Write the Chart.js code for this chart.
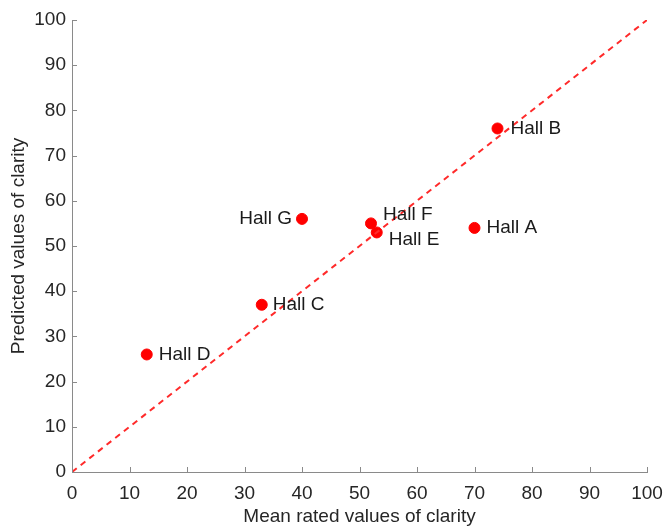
<!DOCTYPE html>
<html>
<head>
<meta charset="utf-8">
<script src="https://cdn.jsdelivr.net/npm/chart.js@4"></script>
<style>
  html, body { margin: 0; padding: 0; background: #fff; }
  #wrap { width: 665px; height: 527px; }
</style>
</head>
<body>
<div id="wrap"><canvas id="clarity"></canvas></div>
<script>
// values
const halls = ['Hall A', 'Hall B', 'Hall C', 'Hall D', 'Hall E', 'Hall F', 'Hall G'];
const meanRated = [70, 74, 33, 13, 53, 52, 40];
const predicted = [54, 76, 37, 26, 53, 55, 56];
const refLine = [0, 100];
const ticks = [0, 10, 20, 30, 40, 50, 60, 70, 80, 90, 100];

const FONT = '"Liberation Sans", Arial, sans-serif';
const AXIS_GREY = '#8a8a8a';

// where each label sits relative to its point (dx, dy, align)
const labelPlace = {
    'Hall A': [12, 0, 'left'],
    'Hall B': [13, 0, 'left'],
    'Hall C': [11, 0, 'left'],
    'Hall D': [12, 0, 'left'],
    'Hall E': [12, 7, 'left'],
    'Hall F': [12, -9, 'left'],
    'Hall G': [-10, 0, 'right']
};

// matlab style: tick marks point into the plot
const innerTicks = {
    id: 'innerTicks',
    afterDraw(chart) {
        const ctx = chart.ctx;
        const xs = chart.scales.x, ys = chart.scales.y;
        const area = chart.chartArea;
        ctx.save();
        ctx.strokeStyle = AXIS_GREY;
        ctx.lineWidth = 1;
        ctx.beginPath();
        ticks.forEach(v => {
            const px = Math.round(xs.getPixelForValue(v)) + 0.5;
            ctx.moveTo(px, area.bottom);
            ctx.lineTo(px, area.bottom - 5);
            const py = Math.round(ys.getPixelForValue(v)) + 0.5;
            ctx.moveTo(area.left, py);
            ctx.lineTo(area.left + 5, py);
        });
        ctx.stroke();
        ctx.restore();
    }
};

const pointLabels = {
    id: 'pointLabels',
    afterDatasetsDraw(chart) {
        const ctx = chart.ctx;
        const meta = chart.getDatasetMeta(1);
        ctx.save();
        ctx.font = '19px ' + FONT;
        ctx.fillStyle = '#1a1a1a';
        ctx.textBaseline = 'middle';
        meta.data.forEach((pt, i) => {
            const p = labelPlace[halls[i]];
            ctx.textAlign = p[2];
            ctx.fillText(halls[i], pt.x + p[0], pt.y + p[1]);
        });
        ctx.restore();
    }
};

new Chart(document.getElementById('clarity').getContext('2d'), {
    type: 'scatter',
    data: {
        datasets: [
            {
                type: 'line',
                data: refLine.map(v => ({ x: v, y: v })),
                borderColor: '#ff2a2a',
                borderWidth: 2,
                borderDash: [6, 5],
                pointRadius: 0,
                fill: false
            },
            {
                data: meanRated.map((v, i) => ({ x: v, y: predicted[i] })),
                backgroundColor: '#ff0000',
                borderColor: '#ff0000',
                pointRadius: 5.5,
                pointHoverRadius: 5.5
            }
        ]
    },
    options: {
        responsive: true,
        maintainAspectRatio: false,
        animation: false,
        layout: { padding: { left: 0, right: 18, top: 20, bottom: 0 } },
        plugins: {
            legend: { display: false },
            tooltip: { enabled: false }
        },
        scales: {
            x: {
                type: 'linear',
                min: 0,
                max: 100,
                afterBuildTicks: s => { s.ticks = ticks.map(v => ({ value: v })); },
                afterFit: s => { s.height = 55; s.paddingLeft = 0; s.paddingRight = 0; },
                border: { color: AXIS_GREY, width: 1 },
                grid: { drawOnChartArea: false, drawTicks: false },
                ticks: { color: '#262626', font: { family: FONT, size: 19 }, padding: 10, maxRotation: 0 },
                title: {
                    display: true,
                    text: 'Mean rated values of clarity',
                    color: '#262626',
                    font: { family: FONT, size: 19 },
                    padding: { top: 0, bottom: -1 }
                }
            },
            y: {
                type: 'linear',
                min: 0,
                max: 100,
                afterBuildTicks: s => { s.ticks = ticks.map(v => ({ value: v })); },
                afterFit: s => { s.width = 72; s.paddingTop = 0; s.paddingBottom = 0; },
                border: { color: AXIS_GREY, width: 1 },
                grid: { drawOnChartArea: false, drawTicks: false },
                ticks: { color: '#262626', font: { family: FONT, size: 19 }, padding: 6 },
                title: {
                    display: true,
                    text: 'Predicted values of clarity',
                    color: '#262626',
                    font: { family: FONT, size: 19 },
                    padding: { top: 7, bottom: 0 }
                }
            }
        }
    },
    plugins: [pointLabels, innerTicks]
});
</script>
</body>
</html>
